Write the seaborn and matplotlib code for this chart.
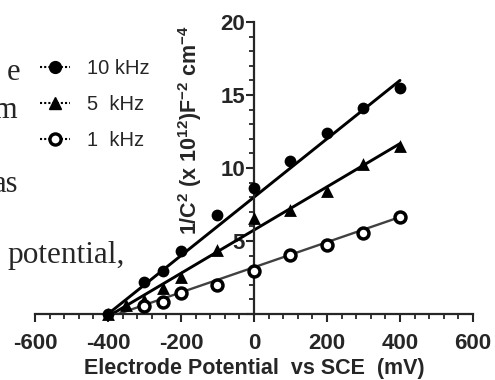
import numpy as np
import pandas as pd
import matplotlib
matplotlib.use("Agg")
import matplotlib.pyplot as plt
import seaborn as sns
from matplotlib.lines import Line2D
from matplotlib.ticker import MultipleLocator

# --- data (potential in mV, 1/C^2 in 1e12 F^-2 cm^-4)
x_10k = [-400, -300, -250, -200, -100, 0, 100, 200, 300, 400]
y_10k = [0.0, 2.2, 2.95, 4.3, 6.8, 8.6, 10.5, 12.4, 14.1, 15.5]

x_5k = [-400, -350, -300, -250, -200, -100, 0, 100, 200, 300, 400]
y_5k = [0.0, 0.6, 0.95, 1.75, 2.5, 4.4, 6.55, 7.1, 8.4, 10.3, 11.5]

x_1k = [-300, -250, -200, -100, 0, 100, 200, 300, 400]
y_1k = [0.55, 0.8, 1.45, 2.0, 2.95, 4.05, 4.75, 5.55, 6.65]

# linear fits drawn on the chart
fit_labels = ["10 kHz", "5  kHz", "1  kHz"]
fit_slope = [0.0200, 0.0148, 0.0086]
fit_intercept = [8.0, 5.75, 3.2]
fit_range = [-400, 400]

x_ticks = [-600, -400, -200, 0, 200, 400, 600]
y_ticks = [0, 5, 10, 15, 20]
y_ticklabels = ["", "5", "10", "15", "20"]

# -------------------------------
sns.set_style("ticks")
plt.rcParams["font.family"] = ["Liberation Sans", "DejaVu Sans"]
plt.rcParams["axes.unicode_minus"] = False
plt.rcParams["mathtext.fontset"] = "custom"
plt.rcParams["mathtext.rm"] = "Liberation Sans"
plt.rcParams["mathtext.bf"] = "Liberation Sans:bold"
plt.rcParams["mathtext.default"] = "bf"

fig = plt.figure(figsize=(4.95, 3.8), dpi=100)
ax = fig.add_axes([0.0707, 0.1737, 0.8848, 0.7684])

pts = pd.concat([
    pd.DataFrame({"x": x_10k, "y": y_10k, "f": "10 kHz"}),
    pd.DataFrame({"x": x_5k, "y": y_5k, "f": "5  kHz"}),
    pd.DataFrame({"x": x_1k, "y": y_1k, "f": "1  kHz"}),
])

fits = pd.concat([
    pd.DataFrame({"x": fit_range,
                  "y": [m * v + b for v in fit_range],
                  "f": lab})
    for lab, m, b in zip(fit_labels, fit_slope, fit_intercept)
])

# fit lines
sns.lineplot(data=fits[fits.f == "10 kHz"], x="x", y="y", color="black", lw=2.1, ax=ax)
sns.lineplot(data=fits[fits.f == "5  kHz"], x="x", y="y", color="black", lw=2.1, ax=ax)
sns.lineplot(data=fits[fits.f == "1  kHz"], x="x", y="y", color="0.25", lw=1.7, ax=ax)

# points
sns.scatterplot(data=pts[pts.f == "10 kHz"], x="x", y="y", marker="o", s=72,
                color="black", edgecolor="black", linewidth=0, ax=ax, clip_on=False, zorder=3)
sns.scatterplot(data=pts[pts.f == "5  kHz"], x="x", y="y", marker="^", s=85,
                color="black", edgecolor="black", linewidth=0, ax=ax, clip_on=False, zorder=3)
sns.scatterplot(data=pts[pts.f == "1  kHz"], x="x", y="y", marker="o", s=62,
                color="white", edgecolor="black", linewidth=2.5, ax=ax, clip_on=False, zorder=3)

# axes styling: crossing spines
ax.set_xlim(-600, 600)
ax.set_ylim(0, 20)
for s in ["top", "right"]:
    ax.spines[s].set_visible(False)
ax.spines["left"].set_position(("data", 0))
ax.spines["bottom"].set_position(("data", 0))
ax.spines["left"].set_linewidth(1.6)
ax.spines["bottom"].set_linewidth(1.6)
ax.spines["left"].set_bounds(0, 20)
ax.spines["bottom"].set_bounds(-600, 600)

ax.set_xticks(x_ticks)
ax.set_yticks(y_ticks)
ax.set_yticklabels(y_ticklabels)
ax.xaxis.set_minor_locator(MultipleLocator(40))
ax.yaxis.set_minor_locator(MultipleLocator(1))
ax.tick_params(which="major", length=6, width=1.5, direction="out")
ax.tick_params(which="minor", length=3.5, width=1.3, direction="out")
ax.tick_params(axis="x", which="major", pad=8, labelsize=16)
ax.tick_params(axis="y", which="major", pad=0.5, labelsize=16)
for lab in ax.get_xticklabels() + ax.get_yticklabels():
    lab.set_fontweight("bold")

ax.set_xlabel("Electrode Potential  vs SCE  (mV)", fontsize=15.5, fontweight="bold")
ax.xaxis.set_label_coords(0.5, -0.152)
ax.set_ylabel("1/C$^{2}$ (x 10$^{12}$)F$^{-2}$ cm$^{-4}$", fontsize=15.5, fontweight="bold")
ax.yaxis.set_label_coords(0.385, 0.63)

# legend
handles = [
    Line2D([], [], color="black", lw=1.5, ls=(0, (1, 1)), marker="o", ms=8.5, mfc="black", mec="black"),
    Line2D([], [], color="black", lw=1.5, ls=(0, (1, 1)), marker="^", ms=9, mfc="black", mec="black"),
    Line2D([], [], color="black", lw=1.5, ls=(0, (1, 1)), marker="o", ms=8, mfc="white", mec="black", mew=2.4),
]
fig.legend(handles, fit_labels, loc="upper left", bbox_to_anchor=(0.081, 0.845),
           frameon=False, fontsize=14.5, borderpad=0, borderaxespad=0,
           handlelength=1.5, handletextpad=0.85, labelspacing=0.85)

# leftover page text beside the figure
page_kw = dict(fontsize=22, family=["Liberation Serif", "DejaVu Serif"], ha="right", va="baseline")
fig.text(20 / 495, 1 - 80 / 380, "e", **page_kw)
fig.text(17 / 495, 1 - 118 / 380, "m", **page_kw)
fig.text(18 / 495, 1 - 192 / 380, "as", **page_kw)
fig.text(7 / 495, 1 - 263 / 380, "potential,", fontsize=22.5,
         family=["Liberation Serif", "DejaVu Serif"], ha="left", va="baseline")

fig.savefig("out.png", dpi=100)
